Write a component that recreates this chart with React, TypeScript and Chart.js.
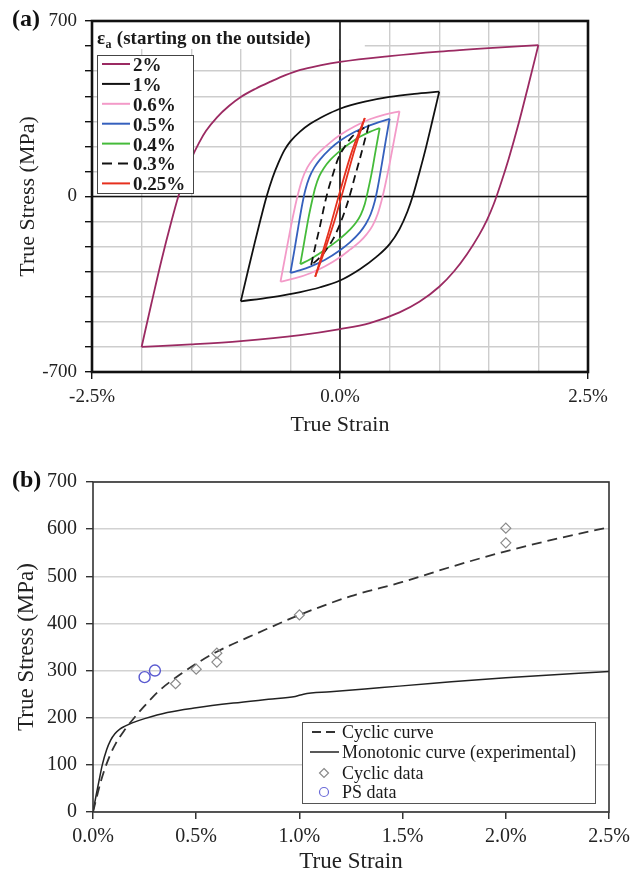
import React, { useEffect, useRef } from "react";
import { Chart, registerables } from "chart.js";
Chart.register(...registerables);

type P = [number, number];

// ---------- Panel (a): hysteresis loops, [true strain %, true stress MPa] ----------
const loop2Up: P[] = [[-2.0, -600], [-1.9, -425], [-1.8, -255], [-1.7, -100], [-1.63, 0], [-1.56, 85], [-1.49, 158], [-1.42, 215], [-1.35, 262], [-1.24, 316], [-1.12, 361], [-1.0, 397], [-0.85, 430], [-0.7, 458], [-0.55, 484], [-0.4, 505], [-0.2, 523], [0, 537], [0.5, 560], [1.0, 578], [1.5, 592], [2.0, 604]];
const loop2Down: P[] = [[2.0, 604], [1.9, 445], [1.8, 290], [1.7, 150], [1.62, 50], [1.55, -30], [1.48, -95], [1.4, -155], [1.28, -230], [1.15, -298], [1.0, -360], [0.8, -420], [0.6, -462], [0.3, -505], [0, -529], [-0.4, -553], [-1.0, -577], [-1.5, -590], [-2.0, -600]];
const loop1Up: P[] = [[-1.0, -418], [-0.93, -300], [-0.86, -185], [-0.8, -90], [-0.74, 0], [-0.68, 75], [-0.62, 135], [-0.56, 185], [-0.5, 220], [-0.4, 260], [-0.3, 290], [-0.2, 313], [-0.1, 333], [0, 350], [0.25, 378], [0.5, 397], [0.75, 409], [1.0, 418]];
const loop1Down: P[] = [[1.0, 418], [0.93, 300], [0.86, 185], [0.8, 95], [0.74, 10], [0.68, -60], [0.6, -130], [0.5, -190], [0.37, -240], [0.2, -290], [0, -335], [-0.2, -362], [-0.4, -381], [-0.7, -402], [-1.0, -418]];
const loop06Up: P[] = [[-0.6, -340], [-0.55, -235], [-0.5, -130], [-0.45, -35], [-0.42, 15], [-0.38, 70], [-0.33, 115], [-0.27, 150], [-0.2, 180], [-0.1, 215], [0, 245], [0.15, 280], [0.3, 308], [0.45, 327], [0.6, 340]];
const loop06Down: P[] = [[0.6, 340], [0.55, 235], [0.5, 130], [0.45, 35], [0.42, -15], [0.38, -70], [0.33, -115], [0.27, -150], [0.2, -180], [0.1, -212], [0, -242], [-0.15, -278], [-0.3, -306], [-0.45, -326], [-0.6, -340]];
const loop05Up: P[] = [[-0.5, -305], [-0.46, -215], [-0.42, -120], [-0.38, -30], [-0.35, 25], [-0.31, 75], [-0.26, 115], [-0.2, 148], [-0.1, 190], [0, 222], [0.15, 258], [0.3, 284], [0.4, 298], [0.5, 310]];
const loop05Down: P[] = [[0.5, 310], [0.46, 220], [0.42, 125], [0.38, 35], [0.35, -20], [0.31, -70], [0.26, -110], [0.2, -143], [0.1, -183], [0, -214], [-0.15, -252], [-0.3, -280], [-0.4, -294], [-0.5, -305]];
const loop04Up: P[] = [[-0.4, -270], [-0.36, -180], [-0.32, -90], [-0.28, -15], [-0.25, 35], [-0.21, 80], [-0.16, 115], [-0.1, 145], [0, 182], [0.1, 212], [0.2, 238], [0.3, 258], [0.4, 273]];
const loop04Down: P[] = [[0.4, 273], [0.36, 185], [0.32, 95], [0.28, 20], [0.25, -30], [0.21, -72], [0.16, -105], [0.1, -132], [0, -168], [-0.1, -198], [-0.2, -225], [-0.3, -250], [-0.4, -270]];
const loop03Up: P[] = [[-0.29, -273], [-0.25, -200], [-0.2, -115], [-0.16, -40], [-0.12, 25], [-0.07, 90], [-0.02, 150], [0.05, 200], [0.12, 238], [0.2, 263], [0.29, 285]];
const loop03Down: P[] = [[0.29, 285], [0.25, 225], [0.2, 150], [0.15, 80], [0.11, 20], [0.06, -45], [0.0, -110], [-0.07, -170], [-0.15, -218], [-0.22, -250], [-0.29, -273]];
const loop025Up: P[] = [[-0.25, -320], [-0.12, -150], [0, 20], [0.12, 180], [0.25, 313]];
const loop025Down: P[] = [[0.25, 313], [0.15, 190], [0.05, 50], [-0.05, -90], [-0.15, -210], [-0.25, -320]];

const legendTitleA = "(starting on the outside)";
const strainLabelsA = [-2.5, 0, 2.5];
const stressLabelsA = [-700, 0, 700];

// ---------- Panel (b) ----------
const cyclicCurve: P[] = [[0, 0], [0.02, 35], [0.04, 68], [0.06, 95], [0.084, 122], [0.11, 145], [0.15, 172], [0.2, 200], [0.25, 225], [0.32, 257], [0.42, 291], [0.52, 320], [0.6, 340], [0.8, 380], [1.0, 418], [1.25, 458], [1.5, 488], [1.75, 522], [2.0, 553], [2.25, 580], [2.5, 604]];
const monotonicCurve: P[] = [[0, 0], [0.015, 35], [0.03, 68], [0.045, 100], [0.066, 132], [0.085, 152], [0.106, 166], [0.13, 176], [0.155, 182], [0.19, 189], [0.25, 198], [0.36, 211], [0.5, 221], [0.68, 231], [0.85, 239], [0.98, 245], [1.02, 250], [1.15, 255], [1.4, 264], [1.65, 273], [2.0, 285], [2.5, 298]];
const cyclicDataStrain = [0.4, 0.5, 0.6, 0.6, 1.0, 2.0, 2.0];
const cyclicDataStress = [272, 303, 318, 337, 418, 571, 602];
const psDataStrain = [0.25, 0.3];
const psDataStress = [286, 300];
const legendLabelsB = ["Cyclic curve", "Monotonic curve (experimental)", "Cyclic data", "PS data"];

const FONT = "'Liberation Serif', 'Times New Roman', serif";
const toXY = (pts: P[]) => pts.map(([x, y]) => ({ x, y }));
const near = (v: number, arr: number[]) => arr.some((t) => Math.abs(t - v) < 1e-6);

const loopsA = [
  { label: "2%", color: "#9b2a62", dash: [] as number[], up: loop2Up, down: loop2Down },
  { label: "1%", color: "#111111", dash: [] as number[], up: loop1Up, down: loop1Down },
  { label: "0.6%", color: "#f39ac8", dash: [] as number[], up: loop06Up, down: loop06Down },
  { label: "0.5%", color: "#3560bd", dash: [] as number[], up: loop05Up, down: loop05Down },
  { label: "0.4%", color: "#45bb3a", dash: [] as number[], up: loop04Up, down: loop04Down },
  { label: "0.3%", color: "#111111", dash: [8, 5], up: loop03Up, down: loop03Down },
  { label: "0.25%", color: "#e6301e", dash: [] as number[], up: loop025Up, down: loop025Down },
];

const panelAPlugin = {
  id: "panelA",
  beforeDatasetsDraw(chart: any) {
    const { ctx, chartArea: a, scales } = chart;
    const x0 = scales.x.getPixelForValue(0);
    const y0 = scales.y.getPixelForValue(0);
    ctx.save();
    ctx.fillStyle = "#ffffff";
    ctx.fillRect(a.left, a.top, (a.right - a.left) * 0.55, 28);
    ctx.strokeStyle = "#111";
    ctx.lineWidth = 1.6;
    ctx.beginPath();
    ctx.moveTo(x0, a.top);
    ctx.lineTo(x0, a.bottom);
    ctx.moveTo(a.left, y0);
    ctx.lineTo(a.right, y0);
    ctx.stroke();
    ctx.restore();
  },
  afterDatasetsDraw(chart: any) {
    const { ctx, chartArea: a } = chart;
    ctx.save();
    ctx.strokeStyle = "#111";
    ctx.lineWidth = 2.6;
    ctx.strokeRect(a.left, a.top, a.right - a.left, a.bottom - a.top);

    ctx.fillStyle = "#1a1a1a";
    ctx.textBaseline = "alphabetic";
    ctx.textAlign = "left";
    const tx = a.left + 5;
    const ty = a.top + 23;
    ctx.font = `bold 19px ${FONT}`;
    ctx.fillText("ε", tx, ty);
    const ew = ctx.measureText("ε").width;
    ctx.font = `bold 12px ${FONT}`;
    ctx.fillText("a", tx + ew + 0.5, ty + 4);
    const aw = ctx.measureText("a").width;
    ctx.font = `bold 19px ${FONT}`;
    ctx.fillText(" " + legendTitleA, tx + ew + aw + 1, ty);

    const bx = a.left + 5;
    const by = a.top + 34;
    const bw = 96;
    const bh = 138;
    ctx.fillStyle = "#fff";
    ctx.fillRect(bx, by, bw, bh);
    ctx.strokeStyle = "#444";
    ctx.lineWidth = 1;
    ctx.strokeRect(bx + 0.5, by + 0.5, bw, bh);
    loopsA.forEach((l, i) => {
      const ly = by + 9 + i * 19.9;
      ctx.strokeStyle = l.color;
      ctx.lineWidth = 2;
      ctx.setLineDash(l.dash.length ? [10, 6] : []);
      ctx.beginPath();
      ctx.moveTo(bx + 5, ly);
      ctx.lineTo(bx + 33, ly);
      ctx.stroke();
      ctx.setLineDash([]);
      ctx.fillStyle = "#1a1a1a";
      ctx.font = `bold 19px ${FONT}`;
      ctx.textBaseline = "middle";
      ctx.fillText(l.label, bx + 36, ly + 2);
    });
    ctx.restore();
  },
  afterDraw(chart: any) {
    const { ctx } = chart;
    ctx.save();
    ctx.fillStyle = "#111";
    ctx.font = `bold 24px ${FONT}`;
    ctx.textBaseline = "middle";
    ctx.textAlign = "left";
    ctx.fillText("(a)", 12, 20);
    ctx.restore();
  },
};

const panelBPlugin = {
  id: "panelB",
  afterDatasetsDraw(chart: any) {
    const { ctx, chartArea: a } = chart;
    ctx.save();
    ctx.strokeStyle = "#333";
    ctx.lineWidth = 1.6;
    ctx.strokeRect(a.left, a.top, a.right - a.left, a.bottom - a.top);

    const bx = 302;
    const by = 277;
    const bw = 293;
    const bh = 81;
    ctx.fillStyle = "#fff";
    ctx.fillRect(bx, by, bw, bh);
    ctx.strokeStyle = "#555";
    ctx.lineWidth = 1;
    ctx.strokeRect(bx + 0.5, by + 0.5, bw, bh);
    const rows = [by + 10, by + 30, by + 51, by + 70];
    const sx = bx + 22;
    ctx.strokeStyle = "#333";
    ctx.lineWidth = 1.8;
    ctx.setLineDash([9, 5]);
    ctx.beginPath();
    ctx.moveTo(bx + 10, rows[0]);
    ctx.lineTo(bx + 36, rows[0]);
    ctx.stroke();
    ctx.setLineDash([]);
    ctx.strokeStyle = "#222";
    ctx.lineWidth = 1.5;
    ctx.beginPath();
    ctx.moveTo(bx + 8, rows[1]);
    ctx.lineTo(bx + 37, rows[1]);
    ctx.stroke();
    ctx.strokeStyle = "#8a8a8a";
    ctx.lineWidth = 1.2;
    ctx.beginPath();
    ctx.moveTo(sx, rows[2] - 4.5);
    ctx.lineTo(sx + 4.5, rows[2]);
    ctx.lineTo(sx, rows[2] + 4.5);
    ctx.lineTo(sx - 4.5, rows[2]);
    ctx.closePath();
    ctx.stroke();
    ctx.strokeStyle = "#6a6ad8";
    ctx.beginPath();
    ctx.arc(sx, rows[3], 4.5, 0, Math.PI * 2);
    ctx.stroke();

    ctx.fillStyle = "#1a1a1a";
    ctx.font = `18px ${FONT}`;
    ctx.textBaseline = "middle";
    ctx.textAlign = "left";
    legendLabelsB.forEach((t, i) => ctx.fillText(t, bx + 40, rows[i] + 1));
    ctx.restore();
  },
  afterDraw(chart: any) {
    const { ctx } = chart;
    ctx.save();
    ctx.fillStyle = "#111";
    ctx.font = `bold 24px ${FONT}`;
    ctx.textBaseline = "middle";
    ctx.textAlign = "left";
    ctx.fillText("(b)", 12, 36);
    ctx.restore();
  },
};

export default function App() {
  const refA = useRef<HTMLCanvasElement | null>(null);
  const refB = useRef<HTMLCanvasElement | null>(null);

  useEffect(() => {
    if (!refA.current || !refB.current) return;

    const datasetsA: any[] = [];
    [...loopsA].reverse().forEach((l) => {
      [l.up, l.down].forEach((pts) => {
        datasetsA.push({
          label: l.label,
          data: toXY(pts),
          showLine: true,
          borderColor: l.color,
          borderWidth: 1.8,
          borderDash: l.dash,
          pointRadius: 0,
          cubicInterpolationMode: "monotone",
          fill: false,
        });
      });
    });

    const chartA = new Chart(refA.current, {
      type: "scatter",
      data: { datasets: datasetsA },
      options: {
        animation: false,
        responsive: false,
        events: [],
        layout: { padding: { left: 0, top: 21, right: 55, bottom: 0 } },
        plugins: { legend: { display: false }, tooltip: { enabled: false } },
        scales: {
          x: {
            type: "linear",
            min: -2.5,
            max: 2.5,
            afterFit: (s: any) => { s.height = 73; },
            border: { display: false },
            grid: {
              color: "#cdcdcd",
              lineWidth: 1.4,
              tickLength: 7,
              tickColor: (c: any) => (c.tick && near(c.tick.value, strainLabelsA) ? "#111" : "rgba(0,0,0,0)"),
            },
            ticks: {
              stepSize: 0.5,
              autoSkip: false,
              maxRotation: 0,
              padding: 7,
              color: "#222",
              font: { family: FONT, size: 19 },
              callback: (v: any) => (near(Number(v), strainLabelsA) ? `${Number(v).toFixed(1)}%` : ""),
            },
            title: { display: true, text: "True Strain", color: "#222", font: { family: FONT, size: 22 }, padding: { top: 0, bottom: 7 } },
          },
          y: {
            type: "linear",
            min: -700,
            max: 700,
            afterFit: (s: any) => { s.width = 92; },
            border: { display: false },
            grid: { color: "#cdcdcd", lineWidth: 1.4, tickLength: 7, tickColor: "#111" },
            ticks: {
              stepSize: 100,
              autoSkip: false,
              padding: 8,
              color: "#222",
              font: { family: FONT, size: 19 },
              callback: (v: any) => (near(Number(v), stressLabelsA) ? String(v) : ""),
            },
            title: { display: true, text: "True Stress (MPa)", color: "#222", font: { family: FONT, size: 22 }, padding: { top: 15, bottom: 0 } },
          },
        },
      } as any,
      plugins: [panelAPlugin],
    });

    const chartB = new Chart(refB.current, {
      type: "scatter",
      data: {
        datasets: [
          {
            label: "Cyclic data",
            data: cyclicDataStrain.map((x, i) => ({ x, y: cyclicDataStress[i] })),
            pointStyle: "rectRot",
            pointRadius: 5,
            borderColor: "#8a8a8a",
            backgroundColor: "rgba(255,255,255,0)",
            borderWidth: 1.2,
            showLine: false,
          },
          {
            label: "PS data",
            data: psDataStrain.map((x, i) => ({ x, y: psDataStress[i] })),
            pointStyle: "circle",
            pointRadius: 5.5,
            borderColor: "#5a5ad0",
            backgroundColor: "rgba(255,255,255,0)",
            borderWidth: 1.4,
            showLine: false,
          },
          {
            label: "Cyclic curve",
            data: toXY(cyclicCurve),
            showLine: true,
            borderColor: "#333",
            borderWidth: 1.8,
            borderDash: [10, 6],
            pointRadius: 0,
            cubicInterpolationMode: "monotone",
          },
          {
            label: "Monotonic curve (experimental)",
            data: toXY(monotonicCurve),
            showLine: true,
            borderColor: "#222",
            borderWidth: 1.5,
            pointRadius: 0,
            cubicInterpolationMode: "monotone",
          },
        ],
      },
      options: {
        animation: false,
        responsive: false,
        events: [],
        layout: { padding: { left: 0, top: 37, right: 34, bottom: 0 } },
        plugins: { legend: { display: false }, tooltip: { enabled: false } },
        scales: {
          x: {
            type: "linear",
            min: 0,
            max: 2.5,
            afterFit: (s: any) => { s.height = 66; },
            border: { display: false },
            grid: { drawOnChartArea: false, tickLength: 7, tickColor: "#333", lineWidth: 1.5 },
            ticks: {
              stepSize: 0.5,
              autoSkip: false,
              maxRotation: 0,
              padding: 6,
              color: "#222",
              font: { family: FONT, size: 20 },
              callback: (v: any) => `${Number(v).toFixed(1)}%`,
            },
            title: { display: true, text: "True Strain", color: "#222", font: { family: FONT, size: 23 }, padding: { top: 0, bottom: 2 } },
          },
          y: {
            type: "linear",
            min: 0,
            max: 700,
            afterFit: (s: any) => { s.width = 93; },
            border: { display: false },
            grid: { color: "#d2d2d2", lineWidth: 1.4, tickLength: 7, tickColor: "#333" },
            ticks: {
              stepSize: 100,
              autoSkip: false,
              padding: 9,
              color: "#222",
              font: { family: FONT, size: 20 },
            },
            title: { display: true, text: "True Stress (MPa)", color: "#222", font: { family: FONT, size: 23 }, padding: { top: 13, bottom: 0 } },
          },
        },
      } as any,
      plugins: [panelBPlugin],
    });

    return () => {
      chartA.destroy();
      chartB.destroy();
    };
  }, []);

  return (
    <div style={{ position: "absolute", left: 0, top: 0, width: 643, height: 878, background: "#fff" }}>
      <canvas ref={refA} width={643} height={445} style={{ position: "absolute", left: 0, top: 0, width: 643, height: 445 }} />
      <canvas ref={refB} width={643} height={433} style={{ position: "absolute", left: 0, top: 445, width: 643, height: 433 }} />
    </div>
  );
}
